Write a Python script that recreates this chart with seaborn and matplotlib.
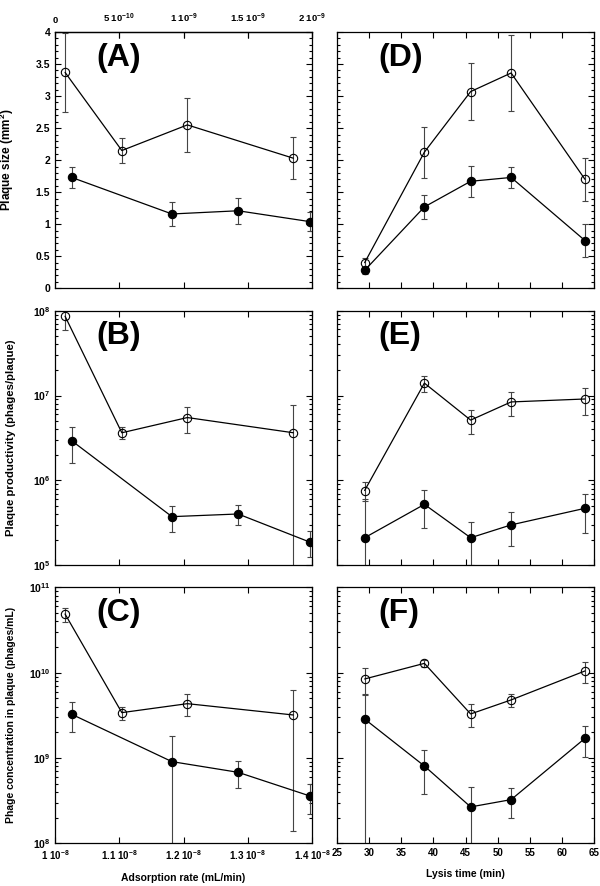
import numpy as np
import matplotlib
matplotlib.use('Agg')
import matplotlib.pyplot as plt
from matplotlib.ticker import MultipleLocator, LogLocator, NullFormatter
import seaborn as sns

# x values
ads_open = [1.0156e-8, 1.104e-8, 1.206e-8, 1.371e-8]
ads_fill = [1.026e-8, 1.182e-8, 1.285e-8, 1.397e-8]
lysis = [29.3, 38.6, 45.8, 52.1, 63.6]

# (A) plaque size vs adsorption rate
a_open = [3.37, 2.15, 2.55, 2.03]
a_open_err = [0.62, 0.19, 0.42, 0.33]
a_fill = [1.73, 1.16, 1.21, 1.04]
a_fill_err = [0.17, 0.19, 0.20, 0.15]

# (B) plaque productivity vs adsorption rate
b_open = [8.6e7, 3.64e6, 5.5e6, 3.64e6]
b_open_err = [2.7e7, 0.6e6, 1.9e6, 4.0e6]
b_fill = [2.93e6, 3.74e5, 4.02e5, 1.87e5]
b_fill_err = [1.33e6, 1.3e5, 1.07e5, 0.63e5]

# (C) phage concentration vs adsorption rate
c_open = [4.87e10, 3.4e9, 4.33e9, 3.19e9]
c_open_err = [0.93e10, 0.6e9, 1.24e9, 3.05e9]
c_fill = [3.25e9, 9.06e8, 6.79e8, 3.58e8]
c_fill_err = [1.25e9, 0.88e9, 2.4e8, 1.35e8]

# (D) plaque size vs lysis time
d_open = [0.40, 2.125, 3.07, 3.36, 1.70]
d_open_err = [0.08, 0.40, 0.44, 0.60, 0.34]
d_fill = [0.28, 1.27, 1.67, 1.73, 0.745]
d_fill_err = [0.05, 0.19, 0.24, 0.17, 0.26]

# (E) plaque productivity vs lysis time
e_open = [7.6e5, 1.40e7, 5.13e6, 8.4e6, 9.1e6]
e_open_err = [1.9e5, 3.0e6, 1.6e6, 2.7e6, 3.2e6]
e_fill = [2.11e5, 5.22e5, 2.11e5, 2.99e5, 4.69e5]
e_fill_err = [4.0e5, 2.5e5, 1.1e5, 1.3e5, 2.3e5]

# (F) phage concentration vs lysis time
f_open = [8.43e9, 1.285e10, 3.28e9, 4.79e9, 1.047e10]
f_open_err = [3.0e9, 1.3e9, 0.99e9, 0.85e9, 2.9e9]
f_fill = [2.86e9, 8.05e8, 2.67e8, 3.25e8, 1.70e9]
f_fill_err = [2.8e9, 4.3e8, 1.9e8, 1.25e8, 0.66e9]

ads_ticks = [1e-8, 1.1e-8, 1.2e-8, 1.3e-8, 1.4e-8]
ads_labels = ['1 10$^{-8}$', '1.1 10$^{-8}$', '1.2 10$^{-8}$', '1.3 10$^{-8}$', '1.4 10$^{-8}$']
top_ticks = [0, 5e-10, 1e-9, 1.5e-9, 2e-9]
top_labels = ['0', '5 10$^{-10}$', '1 10$^{-9}$', '1.5 10$^{-9}$', '2 10$^{-9}$']
size_ticks = [0, 0.5, 1, 1.5, 2, 2.5, 3, 3.5, 4]
size_labels = ['0', '0.5', '1', '1.5', '2', '2.5', '3', '3.5', '4']

sns.set_theme(style='ticks')
plt.rcParams['font.family'] = ['Liberation Sans', 'DejaVu Sans']
plt.rcParams['font.weight'] = 'bold'
plt.rcParams['mathtext.fontset'] = 'custom'
plt.rcParams['mathtext.rm'] = 'Liberation Sans:bold'
plt.rcParams['mathtext.it'] = 'Liberation Sans:bold'
plt.rcParams['mathtext.bf'] = 'Liberation Sans:bold'
plt.rcParams['axes.linewidth'] = 0.9
plt.rcParams['axes.edgecolor'] = 'black'
for key in ['text.color', 'axes.labelcolor', 'xtick.color', 'ytick.color']:
    plt.rcParams[key] = 'black'

fig = plt.figure(figsize=(6, 8.86), dpi=100)
lefts = [0.0917, 0.5617]
rows = [(0.6746, 0.2893), (0.362, 0.2874), (0.0482, 0.2889)]
axes = [[fig.add_axes([l, b, 0.4283, h]) for l in lefts] for (b, h) in rows]


def draw(ax, x, y, err, filled):
    ax.errorbar(x, y, yerr=err, fmt='none', ecolor='#444444', elinewidth=0.8,
                capsize=2, capthick=0.8, zorder=2)
    sns.lineplot(x=x, y=y, ax=ax, color='black', lw=0.9, marker='o', markersize=6,
                 markerfacecolor='black' if filled else 'none',
                 markeredgecolor='black', markeredgewidth=0.8,
                 estimator=None, sort=False, zorder=3)


def style(ax, log):
    ax.tick_params(which='both', direction='in', top=True, right=True,
                   width=0.8, colors='black')
    ax.tick_params(axis='y', labelsize=7.5)
    ax.tick_params(axis='x', labelsize=7)
    ax.tick_params(which='major', length=4)
    ax.tick_params(which='minor', length=2)
    if log:
        ax.yaxis.set_minor_locator(LogLocator(base=10, subs=np.arange(2, 10)))
        ax.yaxis.set_minor_formatter(NullFormatter())
    else:
        ax.set_yticks(size_ticks)
        ax.yaxis.set_minor_locator(MultipleLocator(0.1))


panels = [
    (axes[0][0], ads_open, a_open, a_open_err, ads_fill, a_fill, a_fill_err, False, (0, 4), '(A)'),
    (axes[1][0], ads_open, b_open, b_open_err, ads_fill, b_fill, b_fill_err, True, (1e5, 1e8), '(B)'),
    (axes[2][0], ads_open, c_open, c_open_err, ads_fill, c_fill, c_fill_err, True, (1e8, 1e11), '(C)'),
    (axes[0][1], lysis, d_open, d_open_err, lysis, d_fill, d_fill_err, False, (0, 4), '(D)'),
    (axes[1][1], lysis, e_open, e_open_err, lysis, e_fill, e_fill_err, True, (1e5, 1e8), '(E)'),
    (axes[2][1], lysis, f_open, f_open_err, lysis, f_fill, f_fill_err, True, (1e8, 1e11), '(F)'),
]

for ax, xo, yo, eo, xf, yf, ef, log, ylim, tag in panels:
    if log:
        ax.set_yscale('log')
    draw(ax, xo, yo, eo, False)
    draw(ax, xf, yf, ef, True)
    ax.set_ylim(*ylim)
    style(ax, log)
    ax.set_xlabel('')
    ax.set_ylabel('')
    ax.text(0.16, 0.9, tag, transform=ax.transAxes, fontsize=23, fontweight='bold',
            ha='left', va='center')

for row in range(3):
    ax = axes[row][0]
    ax.set_xlim(1e-8, 1.4e-8)
    ax.set_xticks(ads_ticks)
    ax.set_xticklabels(ads_labels if row == 2 else [])
    axr = axes[row][1]
    axr.set_xlim(25, 65)
    axr.xaxis.set_major_locator(MultipleLocator(5))
    if row < 2:
        axr.set_xticklabels([])
    axr.tick_params(axis='y', which='both', labelleft=False)

# tick labels on the left column
axes[0][0].set_yticklabels(size_labels)
axes[1][0].set_yticks([1e5, 1e6, 1e7, 1e8])
axes[1][0].set_yticklabels(['10$^{5}$', '10$^{6}$', '10$^{7}$', '10$^{8}$'])
axes[2][0].set_yticks([1e8, 1e9, 1e10, 1e11])
axes[2][0].set_yticklabels(['10$^{8}$', '10$^{9}$', '10$^{10}$', '10$^{11}$'])

# top axis of panel A
sec = axes[0][0].secondary_xaxis('top', functions=(lambda b: (b - 1e-8) / 2, lambda t: 1e-8 + 2 * t))
sec.set_xticks(top_ticks)
sec.set_xticklabels(top_labels)
sec.tick_params(direction='in', length=4, labelsize=6.8, width=0.8, pad=5)

ylabels = ['Plaque size (mm$^{2}$)', 'Plaque productivity (phages/plaque)',
           'Phage concentration in plaque (phages/mL)']
ylabel_sizes = [8.5, 8.2, 7.5]
for row in range(3):
    axes[row][0].set_ylabel(ylabels[row], fontsize=ylabel_sizes[row], fontweight='bold')
    axes[row][0].yaxis.set_label_coords(-0.15, 0.5)

axes[2][0].set_xlabel('Adsorption rate (mL/min)', fontsize=7.5, fontweight='bold', labelpad=8)
axes[2][1].set_xlabel('Lysis time (min)', fontsize=7.5, fontweight='bold', labelpad=8)

fig.savefig('out.png', dpi=100)
